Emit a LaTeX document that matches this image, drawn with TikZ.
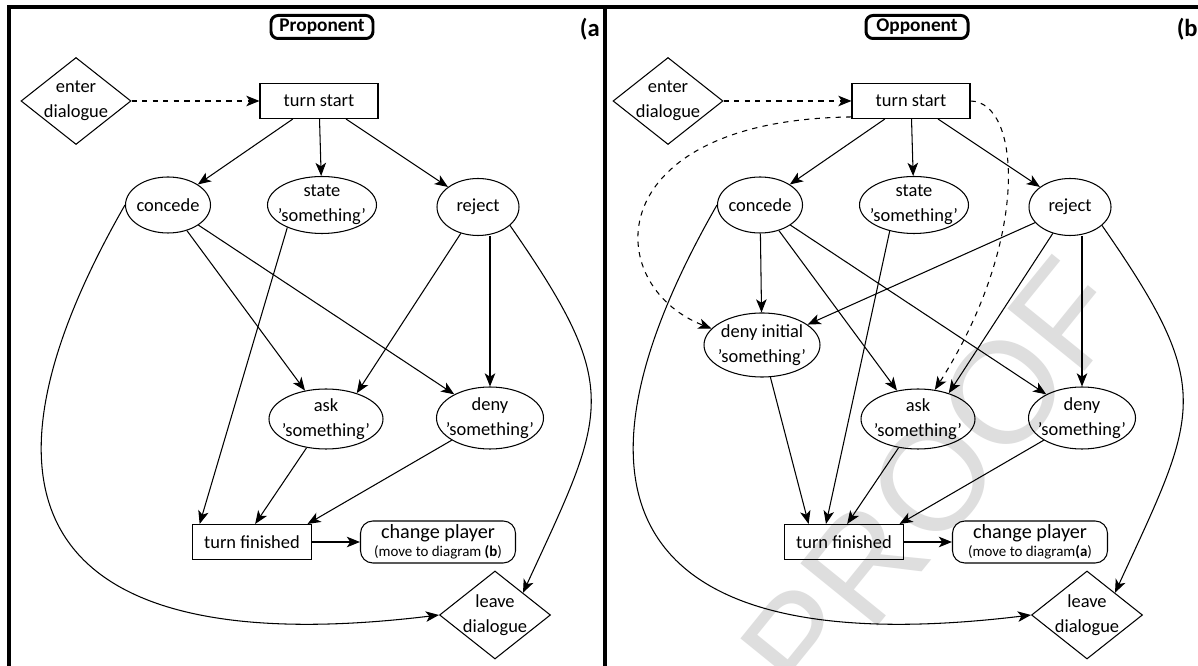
\documentclass[tikz,border=0pt]{standalone}
\usepackage{fontspec}
\setmainfont{Carlito}
\newfontfamily\stampfont{Liberation Sans}
\usetikzlibrary{shapes.geometric, arrows.meta, positioning, calc}

\begin{document}
\begin{tikzpicture}[
            flow/.style={-{Stealth[length=7.5pt, width=6pt, inset=2pt]}, line width=0.6pt},
            hint/.style={flow, dashed},
            rbox/.style={rectangle, draw, line width=0.6pt, minimum width=2.36cm, minimum height=0.7cm, inner sep=1pt, font=\fontsize{10.5}{14}\selectfont},
            oval/.style={ellipse, draw, line width=0.6pt, inner sep=-12pt, align=center, font=\fontsize{10.5}{14}\selectfont},
            gate/.style={diamond, draw, line width=0.6pt, inner sep=-12pt, minimum width=2.2cm, minimum height=1.74cm, align=center, font=\fontsize{10.5}{14}\selectfont},
            handover/.style={rectangle, rounded corners=7pt, draw, line width=0.6pt, minimum width=3.1cm, minimum height=0.84cm, inner sep=0pt, align=center, font=\fontsize{8.5}{10}\selectfont},
            heading/.style={rectangle, rounded corners=4pt, draw, line width=1.7pt, minimum width=2.04cm, minimum height=0.46cm, inner sep=0pt, font=\fontsize{11}{12}\selectfont\bfseries},
            panel/.style={anchor=east, inner sep=0pt, font=\fontsize{14}{14}\selectfont\bfseries},
            stamp/.style={text=black!13, rotate=51, inner sep=0pt, font=\stampfont\fontsize{82}{82}\selectfont},
            panelline/.style={line width=2.3pt}
        ]

% Page, watermark and frames
            \fill[white] (0,0) rectangle (23.96,-13.32);
            \useasboundingbox (0,0) rectangle (23.96,-13.32);
            \node[stamp] (proof) at (18.66,-9.60) {PROOF};
            \draw[panelline] (0.18,-13.4) -- (0.18,-0.14) -- (24.1,-0.14);
            \draw[panelline] (12.10,-0.14) -- (12.10,-13.4);

% Proponent (a)
            \node[heading] (ha) at (6.44,-0.54) {Proponent};
            \node[panel] (la) at (12.00,-0.58) {(a};
            \node[gate] (en) at (1.52,-2.02) {enter\\dialogue};
            \node[rbox] (ts) at (6.38,-2.02) {turn start};
            \node[oval, minimum width=1.70cm, minimum height=1.12cm] (co) at (3.36,-4.10) {concede};
            \node[oval, minimum width=2.18cm, minimum height=1.14cm] (st) at (6.44,-4.10) {state\\'something'};
            \node[oval, minimum width=1.64cm, minimum height=1.14cm] (re) at (9.56,-4.14) {reject};
            \node[oval, minimum width=2.28cm, minimum height=1.20cm] (as) at (6.52,-8.38) {ask\\'something'};
            \node[oval, minimum width=2.14cm, minimum height=1.24cm] (de) at (9.80,-8.36) {deny\\'something'};
            \node[rbox, minimum width=2.38cm] (tf) at (5.04,-10.84) {turn finished};
            \node[handover] (cp) at (8.76,-10.84) {{\fontsize{11.5}{12}\selectfont change player}\\(move to diagram \textbf{(b})};
            \node[gate, minimum width=2.22cm, minimum height=1.76cm] (le) at (9.90,-12.30) {leave\\dialogue};

            \draw[hint] (en) -- (ts);
            \draw[flow] (ts) -- (co);
            \draw[flow] (ts) -- (st);
            \draw[flow] (ts) -- (re);
            \draw[flow] (co) -- (as);
            \draw[flow] (co) -- (de);
            \draw[flow] (re) -- (as.40);
            \draw[flow] (de.north |- re.south) -- (de);
            \draw[flow] (st.213) -- (tf.161);
            \draw[flow] (as) -- (tf.80);
            \draw[flow] (de) -- (tf.18);
            \draw[flow] (tf) -- (cp);
            \draw[flow] (co.west) .. controls +(-3.70,-6.46) and +(-7.38,-0.90) .. (le.west);
            \draw[flow] (re.-30) .. controls +(2.28,-3.28) and +(1.68,3.64) .. (le.north east);

% Opponent (b)
            \node[heading] (hb) at (18.34,-0.54) {Opponent};
            \node[panel] (lb) at (23.96,-0.58) {(b};
            \node[gate] (en2) at (13.36,-2.02) {enter\\dialogue};
            \node[rbox] (ts2) at (18.22,-2.02) {turn start};
            \node[oval, minimum width=1.70cm, minimum height=1.12cm] (co2) at (15.20,-4.10) {concede};
            \node[oval, minimum width=2.18cm, minimum height=1.14cm] (st2) at (18.28,-4.10) {state\\'something'};
            \node[oval, minimum width=1.64cm, minimum height=1.14cm] (re2) at (21.40,-4.14) {reject};
            \node[oval, minimum width=2.32cm, minimum height=1.28cm] (di2) at (15.24,-6.90) {deny initial\\'something'};
            \node[oval, minimum width=2.28cm, minimum height=1.20cm] (as2) at (18.36,-8.38) {ask\\'something'};
            \node[oval, minimum width=2.14cm, minimum height=1.24cm] (de2) at (21.64,-8.36) {deny\\'something'};
            \node[rbox, minimum width=2.38cm] (tf2) at (16.88,-10.84) {turn finished};
            \node[handover] (cp2) at (20.60,-10.84) {{\fontsize{11.5}{12}\selectfont change player}\\(move to diagram\textbf{(a})};
            \node[gate, minimum width=2.22cm, minimum height=1.76cm] (le2) at (21.74,-12.30) {leave\\dialogue};

            \draw[hint] (en2) -- (ts2);
            \draw[hint] (ts2.195) .. controls +(-5.04,-0.06) and +(-2.24,0.88) .. (di2.162);
            \draw[hint] (ts2.east) .. controls +(1.02,-0.02) and +(1.90,2.98) .. (as2.60);
            \draw[flow] (ts2) -- (co2);
            \draw[flow] (ts2) -- (st2);
            \draw[flow] (ts2) -- (re2);
            \draw[flow] (co2) -- (di2);
            \draw[flow] (co2) -- (as2);
            \draw[flow] (co2) -- (de2);
            \draw[flow] (re2) -- (di2);
            \draw[flow] (re2) -- (as2.40);
            \draw[flow] (de2.north |- re2.south) -- (de2);
            \draw[flow] (di2) -- (tf2.153);
            \draw[flow] (st2.227) -- (tf2.135);
            \draw[flow] (as2) -- (tf2.80);
            \draw[flow] (de2) -- (tf2.18);
            \draw[flow] (tf2) -- (cp2);
            \draw[flow] (co2.west) .. controls +(-3.70,-6.46) and +(-7.38,-0.90) .. (le2.west);
            \draw[flow] (re2.-30) .. controls +(2.28,-3.28) and +(1.68,3.64) .. (le2.north east);

        \end{tikzpicture}
\end{document}
